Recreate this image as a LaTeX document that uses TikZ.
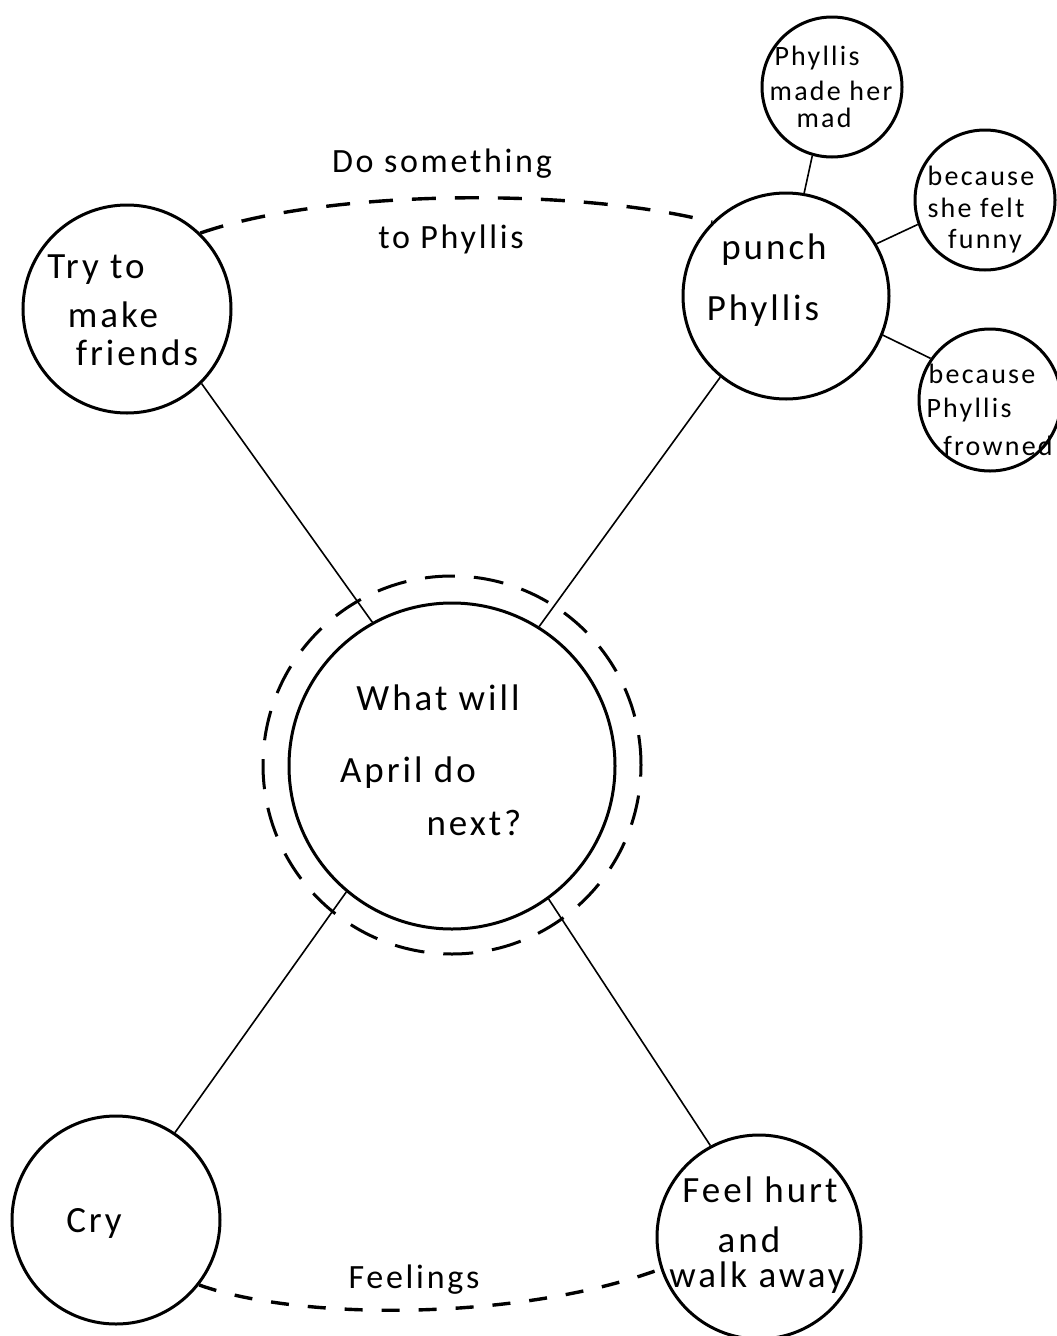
\documentclass[tikz,border=0pt]{standalone}
\usepackage{fontspec}
\newfontfamily\hand[LetterSpace=8]{Carlito}
\begin{document}
\begin{tikzpicture}[x=1pt,y=-1pt,
  ring/.style={circle, draw, line width=3pt, inner sep=0pt},
  link/.style={line width=1.6pt},
  dashlink/.style={line width=3.4pt, dash pattern=on 24pt off 19pt},
  txtC/.style={font=\hand\fontsize{37}{44}\selectfont, anchor=base, inner sep=0pt},
  txtB/.style={font=\hand\fontsize{37}{42}\selectfont, anchor=base, inner sep=0pt},
  txtS/.style={font=\hand\fontsize{28}{32}\selectfont, anchor=base, inner sep=0pt},
  txtL/.style={font=\hand\fontsize{34}{38}\selectfont, anchor=base, inner sep=0pt}]
\useasboundingbox[fill=white] (0,0) rectangle (1057,1336);
% circles
\node[ring, minimum size=326pt] (center) at (452,766) {};
\node[circle, draw, line width=3pt, dash pattern=on 30pt off 19pt, minimum size=378pt, inner sep=0pt] (halo) at (452,765) {};
\node[ring, minimum size=208pt] (try) at (127,309) {};
\node[ring, minimum size=206pt] (punch) at (786,296) {};
\node[ring, minimum size=208pt] (cry) at (116,1220) {};
\node[ring, minimum size=204pt] (feel) at (759,1237) {};
\node[ring, minimum size=140pt] (mad) at (832,87) {};
\node[ring, minimum size=140pt] (funny) at (985,200) {};
\node[ring, minimum size=142pt] (frown) at (990,400) {};
% connectors
\draw[link] (try.-45) -- (center.119);
\draw[link] (punch.-129) -- (center.58);
\draw[link] (cry.56) -- (center.-130);
\draw[link] (feel.118) -- (center.-54);
\draw[link] (mad.-106) -- (punch.80);
\draw[link] (funny.200) -- (punch.30);
\draw[link] (frown.145) -- (punch.-22);
\draw[dashlink] (try.46) .. controls (330,188) and (580,188) .. (punch.135);
\draw[line width=3.4pt, dash pattern=on 18pt off 19pt] (cry.-38) .. controls (300,1321) and (520,1321) .. (feel.198);
% texts
\node[txtL] (l1) at (442,172) {Do something};
\node[txtL] (l2) at (451,248) {to Phyllis};
\node[txtL] (l3) at (414,1288) {Feelings};
\node[txtC] (c1) at (438,710) {What will};
\node[txtC] (c2) at (408,782) {April do};
\node[txtC] (c3) at (474,835) {next?};
\node[txtB] (t1) at (96,278) {Try to};
\node[txtB] (t2) at (113,327) {make};
\node[txtB] (t3) at (137,365) {friends};
\node[txtB] (p1) at (774,259) {punch};
\node[txtB] (p2) at (763,320) {Phyllis};
\node[txtB] (y1) at (94,1232) {Cry};
\node[txtB] (f1) at (760,1202) {Feel hurt};
\node[txtB] (f2) at (749,1252) {and};
\node[txtB] (f3) at (757,1287) {walk away};
\node[txtS] (m1) at (817,65) {Phyllis};
\node[txtS] (m2) at (831,100) {made her};
\node[txtS] (m3) at (824,127) {mad};
\node[txtS] (s1) at (981,185) {because};
\node[txtS] (s2) at (976,217) {she felt};
\node[txtS] (s3) at (985,248) {funny};
\node[txtS] (r1) at (982,383) {because};
\node[txtS] (r2) at (969,417) {Phyllis};
\node[txtS] (r3) at (998,455) {frowned};
\end{tikzpicture}
\end{document}
